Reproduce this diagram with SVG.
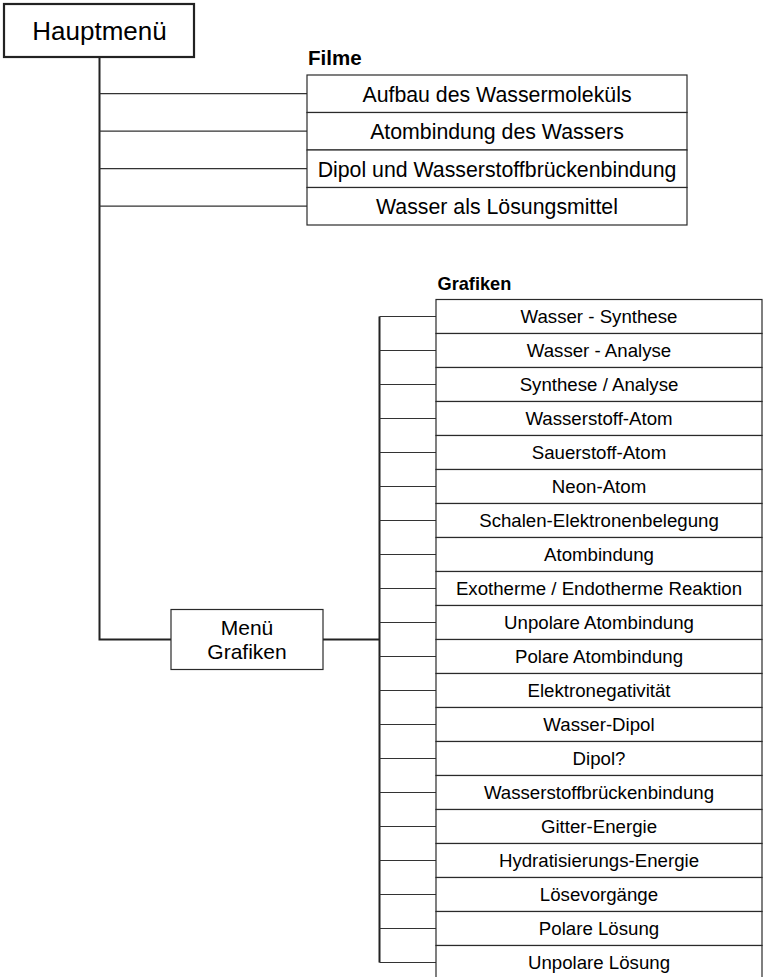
<svg xmlns="http://www.w3.org/2000/svg" width="764" height="977" viewBox="0 0 764 977">
<style>
.bg{fill:#fff}
.box{fill:#fff;stroke:#2a2a2a;stroke-width:1.2}
.main{fill:#fff;stroke:#222;stroke-width:2.2}
.t{font-family:"Liberation Sans",Arial,sans-serif;fill:#000;text-anchor:middle}
.f{font-size:21.3px}
.g{font-size:18.67px}
.h{font-family:"Liberation Sans",Arial,sans-serif;font-weight:bold;fill:#000}
.ln{fill:none;stroke:#333;stroke-width:1.2}
.lt{fill:none;stroke:#222;stroke-width:2}
</style>
<rect class="bg" x="0" y="0" width="764" height="977"/>
<g id="connectors">
<path class="lt" d="M99.5,57 V639.5 H171"/>
<path class="ln" d="M99.5,93.7 H307 M99.5,131.2 H307 M99.5,168.7 H307 M99.5,206.2 H307"/>
<path class="lt" d="M323,639.5 H379.5"/>
<path class="lt" d="M379.5,316.5 V962.5"/>
<path class="ln" d="M379.5,316.5 H436 M379.5,350.5 H436 M379.5,384.5 H436 M379.5,418.5 H436 M379.5,452.5 H436 M379.5,486.5 H436 M379.5,520.5 H436 M379.5,554.5 H436 M379.5,588.5 H436 M379.5,622.5 H436 M379.5,656.5 H436 M379.5,690.5 H436 M379.5,724.5 H436 M379.5,758.5 H436 M379.5,792.5 H436 M379.5,826.5 H436 M379.5,860.5 H436 M379.5,894.5 H436 M379.5,928.5 H436 M379.5,962.5 H436"/>
</g>
<g id="hauptmenu">
<rect class="main" x="4" y="4" width="190" height="53"/>
<text class="t" x="99.5" y="39.5" font-size="26">Hauptmenü</text>
</g>
<text id="label-filme" class="h" x="308" y="64.5" font-size="20.5">Filme</text>
<g id="filme-1"><rect class="box" x="307" y="75" width="380" height="37.5"/><text class="t f" x="497" y="101.8">Aufbau des Wassermoleküls</text></g>
<g id="filme-2"><rect class="box" x="307" y="112.5" width="380" height="37.5"/><text class="t f" x="497" y="139.3">Atombindung des Wassers</text></g>
<g id="filme-3"><rect class="box" x="307" y="150" width="380" height="37.5"/><text class="t f" x="497" y="176.8">Dipol und Wasserstoffbrückenbindung</text></g>
<g id="filme-4"><rect class="box" x="307" y="187.5" width="380" height="37.5"/><text class="t f" x="497" y="214.3">Wasser als Lösungsmittel</text></g>
<g id="menu-grafiken">
<rect class="box" x="171" y="609.5" width="152" height="60"/>
<text class="t" x="247" y="635" font-size="21">Menü</text>
<text class="t" x="247" y="658.5" font-size="21">Grafiken</text>
</g>
<text id="label-grafiken" class="h" x="437.5" y="290" font-size="18.2">Grafiken</text>
<g id="grafik-1"><rect class="box" x="436" y="299.5" width="326" height="34"/><text class="t g" x="599" y="323.3">Wasser - Synthese</text></g>
<g id="grafik-2"><rect class="box" x="436" y="333.5" width="326" height="34"/><text class="t g" x="599" y="357.3">Wasser - Analyse</text></g>
<g id="grafik-3"><rect class="box" x="436" y="367.5" width="326" height="34"/><text class="t g" x="599" y="391.3">Synthese / Analyse</text></g>
<g id="grafik-4"><rect class="box" x="436" y="401.5" width="326" height="34"/><text class="t g" x="599" y="425.3">Wasserstoff-Atom</text></g>
<g id="grafik-5"><rect class="box" x="436" y="435.5" width="326" height="34"/><text class="t g" x="599" y="459.3">Sauerstoff-Atom</text></g>
<g id="grafik-6"><rect class="box" x="436" y="469.5" width="326" height="34"/><text class="t g" x="599" y="493.3">Neon-Atom</text></g>
<g id="grafik-7"><rect class="box" x="436" y="503.5" width="326" height="34"/><text class="t g" x="599" y="527.3">Schalen-Elektronenbelegung</text></g>
<g id="grafik-8"><rect class="box" x="436" y="537.5" width="326" height="34"/><text class="t g" x="599" y="561.3">Atombindung</text></g>
<g id="grafik-9"><rect class="box" x="436" y="571.5" width="326" height="34"/><text class="t g" x="599" y="595.3">Exotherme / Endotherme Reaktion</text></g>
<g id="grafik-10"><rect class="box" x="436" y="605.5" width="326" height="34"/><text class="t g" x="599" y="629.3">Unpolare Atombindung</text></g>
<g id="grafik-11"><rect class="box" x="436" y="639.5" width="326" height="34"/><text class="t g" x="599" y="663.3">Polare Atombindung</text></g>
<g id="grafik-12"><rect class="box" x="436" y="673.5" width="326" height="34"/><text class="t g" x="599" y="697.3">Elektronegativität</text></g>
<g id="grafik-13"><rect class="box" x="436" y="707.5" width="326" height="34"/><text class="t g" x="599" y="731.3">Wasser-Dipol</text></g>
<g id="grafik-14"><rect class="box" x="436" y="741.5" width="326" height="34"/><text class="t g" x="599" y="765.3">Dipol?</text></g>
<g id="grafik-15"><rect class="box" x="436" y="775.5" width="326" height="34"/><text class="t g" x="599" y="799.3">Wasserstoffbrückenbindung</text></g>
<g id="grafik-16"><rect class="box" x="436" y="809.5" width="326" height="34"/><text class="t g" x="599" y="833.3">Gitter-Energie</text></g>
<g id="grafik-17"><rect class="box" x="436" y="843.5" width="326" height="34"/><text class="t g" x="599" y="867.3">Hydratisierungs-Energie</text></g>
<g id="grafik-18"><rect class="box" x="436" y="877.5" width="326" height="34"/><text class="t g" x="599" y="901.3">Lösevorgänge</text></g>
<g id="grafik-19"><rect class="box" x="436" y="911.5" width="326" height="34"/><text class="t g" x="599" y="935.3">Polare Lösung</text></g>
<g id="grafik-20"><rect class="box" x="436" y="945.5" width="326" height="34"/><text class="t g" x="599" y="969.3">Unpolare Lösung</text></g>
</svg>
